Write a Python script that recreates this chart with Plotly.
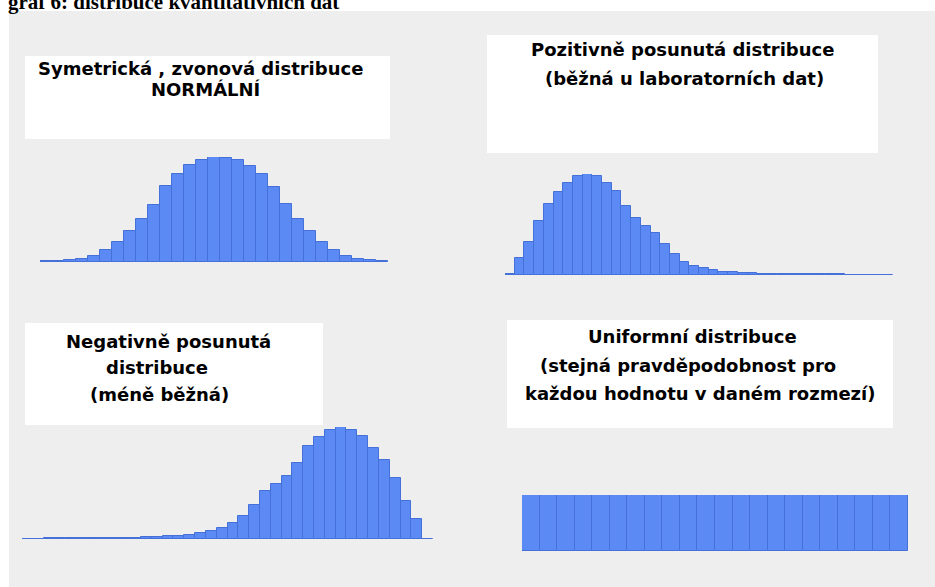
import plotly.graph_objects as go

W, H = 935, 587

# ---- data (relative bar heights) ----
normal_vals = [3, 4, 6, 10, 17, 35, 60, 92, 130, 172, 227, 265, 290, 307, 315,
               313, 305, 287, 263, 225, 175, 130, 92, 60, 35, 17, 10, 6, 3]
positive_vals = [3, 50, 98, 160, 212, 248, 275, 295, 302, 295, 275, 252, 205, 170,
                 148, 125, 93, 62, 40, 28, 20, 14, 10, 8, 6, 5, 4, 3, 3, 3, 2, 2,
                 2, 2, 2, 1, 1, 1, 1, 1]
negative_vals = [1, 1, 2, 2, 2, 2, 3, 3, 3, 4, 4, 5, 6, 8, 10, 13, 18, 23, 33, 48,
                 70, 103, 143, 166, 188, 228, 280, 306, 328, 336, 328, 308, 273,
                 236, 183, 113, 60, 1]
uniform_vals = [1] * 22

title_text = "graf 6: distribuce kvantitativních dat"
box_texts = {
    "normal": ["Symetrická , zvonová distribuce", "NORMÁLNÍ"],
    "positive": ["Pozitivně posunutá distribuce", "(běžná u laboratorních dat)"],
    "negative": ["Negativně posunutá", "distribuce", "(méně běžná)"],
    "uniform": ["Uniformní distribuce", "(stejná pravděpodobnost pro",
                "každou hodnotu v daném rozmezí)"],
}

BAR_FILL = "#5b8af5"
BAR_LINE = "#4570d8"


def fx(px):
    return px / W


def fy(py):
    return 1 - py / H


fig = go.Figure()

panels = [
    # name, values, x0, x1 (px), y_bottom, y_top (px)
    ("normal", normal_vals, 40, 388, 262, 157),
    ("positive", positive_vals, 505, 893, 275, 174),
    ("negative", negative_vals, 22, 433, 539, 427),
    ("uniform", uniform_vals, 522, 908, 551, 495),
]

layout_axes = {}
for i, (name, vals, x0, x1, yb, yt) in enumerate(panels, start=1):
    sfx = "" if i == 1 else str(i)
    fig.add_trace(go.Bar(
        x=list(range(len(vals))), y=vals,
        xaxis="x" + sfx, yaxis="y" + sfx,
        marker=dict(color=BAR_FILL, line=dict(color=BAR_LINE, width=1)),
        showlegend=False, hoverinfo="skip",
    ))
    layout_axes["xaxis" + sfx] = dict(
        domain=[fx(x0), fx(x1)], range=[-0.5, len(vals) - 0.5],
        anchor="y" + sfx, visible=False, fixedrange=True)
    layout_axes["yaxis" + sfx] = dict(
        domain=[fy(yb), fy(yt)], range=[0, max(vals)],
        anchor="x" + sfx, visible=False, fixedrange=True)

shapes = [
    dict(type="rect", xref="paper", yref="paper", x0=fx(9), x1=fx(935),
         y0=fy(587), y1=fy(11), fillcolor="#eeeeee", line=dict(width=0),
         layer="below"),
]
boxes = [(25, 390, 56, 139), (487, 878, 35, 153), (25, 323, 323, 425), (507, 893, 320, 428)]
for bx0, bx1, by0, by1 in boxes:
    shapes.append(dict(type="rect", xref="paper", yref="paper",
                       x0=fx(bx0), x1=fx(bx1), y0=fy(by1), y1=fy(by0),
                       fillcolor="white", line=dict(width=0), layer="below"))

TXT_FONT = dict(family="DejaVu Sans", size=18, color="#000000")
line_pos = {
    "normal": [(200, 69), (206, 89)],
    "positive": [(682, 50), (684, 78)],
    "negative": [(168, 341), (157, 367), (159, 394)],
    "uniform": [(692, 336), (688, 365), (700, 393)],
}
annotations = []
for key, lines in box_texts.items():
    for txt, (cx, cy) in zip(lines, line_pos[key]):
        annotations.append(dict(
            text="<b>" + txt + "</b>", xref="paper", yref="paper",
            x=fx(cx), y=fy(cy), xanchor="center", yanchor="middle",
            showarrow=False, font=TXT_FONT))

annotations.append(dict(
    text="<b>" + title_text + "</b>", xref="paper", yref="paper",
    x=fx(6), y=fy(2.5), xanchor="left", yanchor="middle", showarrow=False,
    font=dict(family="Liberation Serif", size=21, color="black")))

fig.update_layout(
    width=W, height=H, autosize=False,
    margin=dict(l=0, r=0, t=0, b=0, pad=0),
    paper_bgcolor="white", plot_bgcolor="rgba(0,0,0,0)",
    bargap=0, shapes=shapes, annotations=annotations,
    **layout_axes,
)

fig.write_html("out.html", config={"displayModeBar": False},
               post_script="document.body.style.margin='0px';"
                           "document.body.style.overflow='hidden';")
